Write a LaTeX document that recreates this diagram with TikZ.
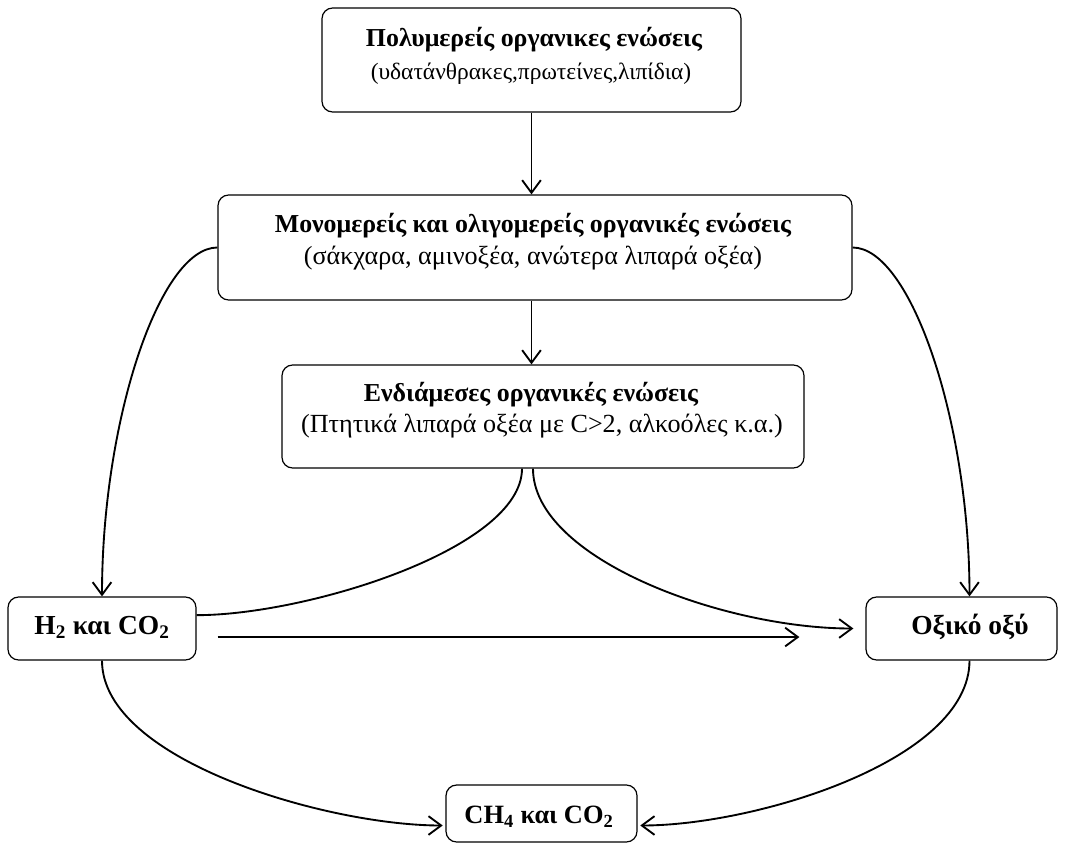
\documentclass[tikz,border=0pt]{standalone}
\usepackage{fontspec}
\setmainfont{Liberation Serif}
\usetikzlibrary{arrows.meta,fit}
\begin{document}
\begin{tikzpicture}[x=0.75pt,y=-0.75pt,
  box/.style={draw, line width=0.9pt, rounded corners=8pt, inner sep=0pt},
  ttl/.style={anchor=base, inner sep=0pt, font=\fontsize{19.4}{22}\selectfont\bfseries},
  sub/.style={anchor=base, inner sep=0pt, font=\fontsize{19.6}{22}\selectfont},
  lbl/.style={anchor=base, inner sep=0pt, font=\fontsize{20.6}{24}\selectfont\bfseries},
  arr/.style={line width=1.4pt, -{Straight Barb[length=9.5pt,width=14pt,line width=1.4pt]}},
  link/.style={line width=1.4pt}]
\useasboundingbox (0,0) rectangle (1065,845);
% boxes
\node[box, fit={(322,8) (741,112)}] (poly) {};
\node[box, fit={(218,195) (852,300)}] (mono) {};
\node[box, fit={(282,365) (804,468)}] (mid) {};
\node[box, fit={(8,597) (196,660)}] (h2) {};
\node[box, fit={(866,597) (1057,660)}] (oxy) {};
\node[box, fit={(446,785) (637,842)}] (ch4) {};
% texts
\node[ttl] (polyT) at (534,47) {Πολυμερείς οργανικες ενώσεις};
\node[sub, font=\fontsize{17.6}{20}\selectfont] (polyS) at (531,80) {(υδατάνθρακες,πρωτείνες,λιπίδια)};
\node[ttl] (monoT) at (533,233) {Μονομερείς και ολιγομερείς οργανικές ενώσεις};
\node[sub] (monoS) at (533,265) {(σάκχαρα, αμινοξέα, ανώτερα λιπαρά οξέα)};
\node[ttl] (midT) at (531,402) {Ενδιάμεσες οργανικές ενώσεις};
\node[sub] (midS) at (542,432) {(Πτητικά λιπαρά οξέα με C>2, αλκοόλες κ.α.)};
\node[lbl] (h2T) at (102,634) {H\textsubscript{2} και CO\textsubscript{2}};
\node[lbl] (oxyT) at (970,634) {Οξικό οξύ};
\node[lbl, font=\fontsize{19.8}{24}\selectfont\bfseries] (ch4T) at (539,823) {CH\textsubscript{4} και CO\textsubscript{2}};
% vertical arrows
\draw[arr] (poly.south) -- (poly.south |- mono.north);
\draw[arr] (poly.south |- mono.south) -- (poly.south |- mid.north);
% side curves from the monomer box
\draw[arr] (mono.west) .. controls +(-58,0) and +(0,-175) .. (h2.north);
\draw[arr] (mono.east) .. controls +(58,0) and +(0,-175) .. ([xshift=6pt]oxy.north);
% curves from the intermediate box
\draw[link] ([xshift=-15.75pt]mid.south) .. controls +(0,80) and +(110,0) .. ([yshift=10pt]h2.east);
\draw[arr] ([xshift=-7.5pt]mid.south) .. controls +(0,90) and +(-130,0) .. ([xshift=-9pt]oxy.west);
% straight arrow H2 -> acetic acid
\draw[arr] ([xshift=15.75pt,yshift=-6.4pt]h2.east) -- ([xshift=-49.5pt,yshift=-6.4pt]oxy.west);
% curves into the methane box
\draw[arr] (h2.south) .. controls +(0,100) and +(-115,0) .. ([xshift=-2pt,yshift=-9pt]ch4.west);
\draw[arr] ([xshift=6pt]oxy.south) .. controls +(0,100) and +(115,0) .. ([xshift=2pt,yshift=-9pt]ch4.east);
\end{tikzpicture}
\end{document}
